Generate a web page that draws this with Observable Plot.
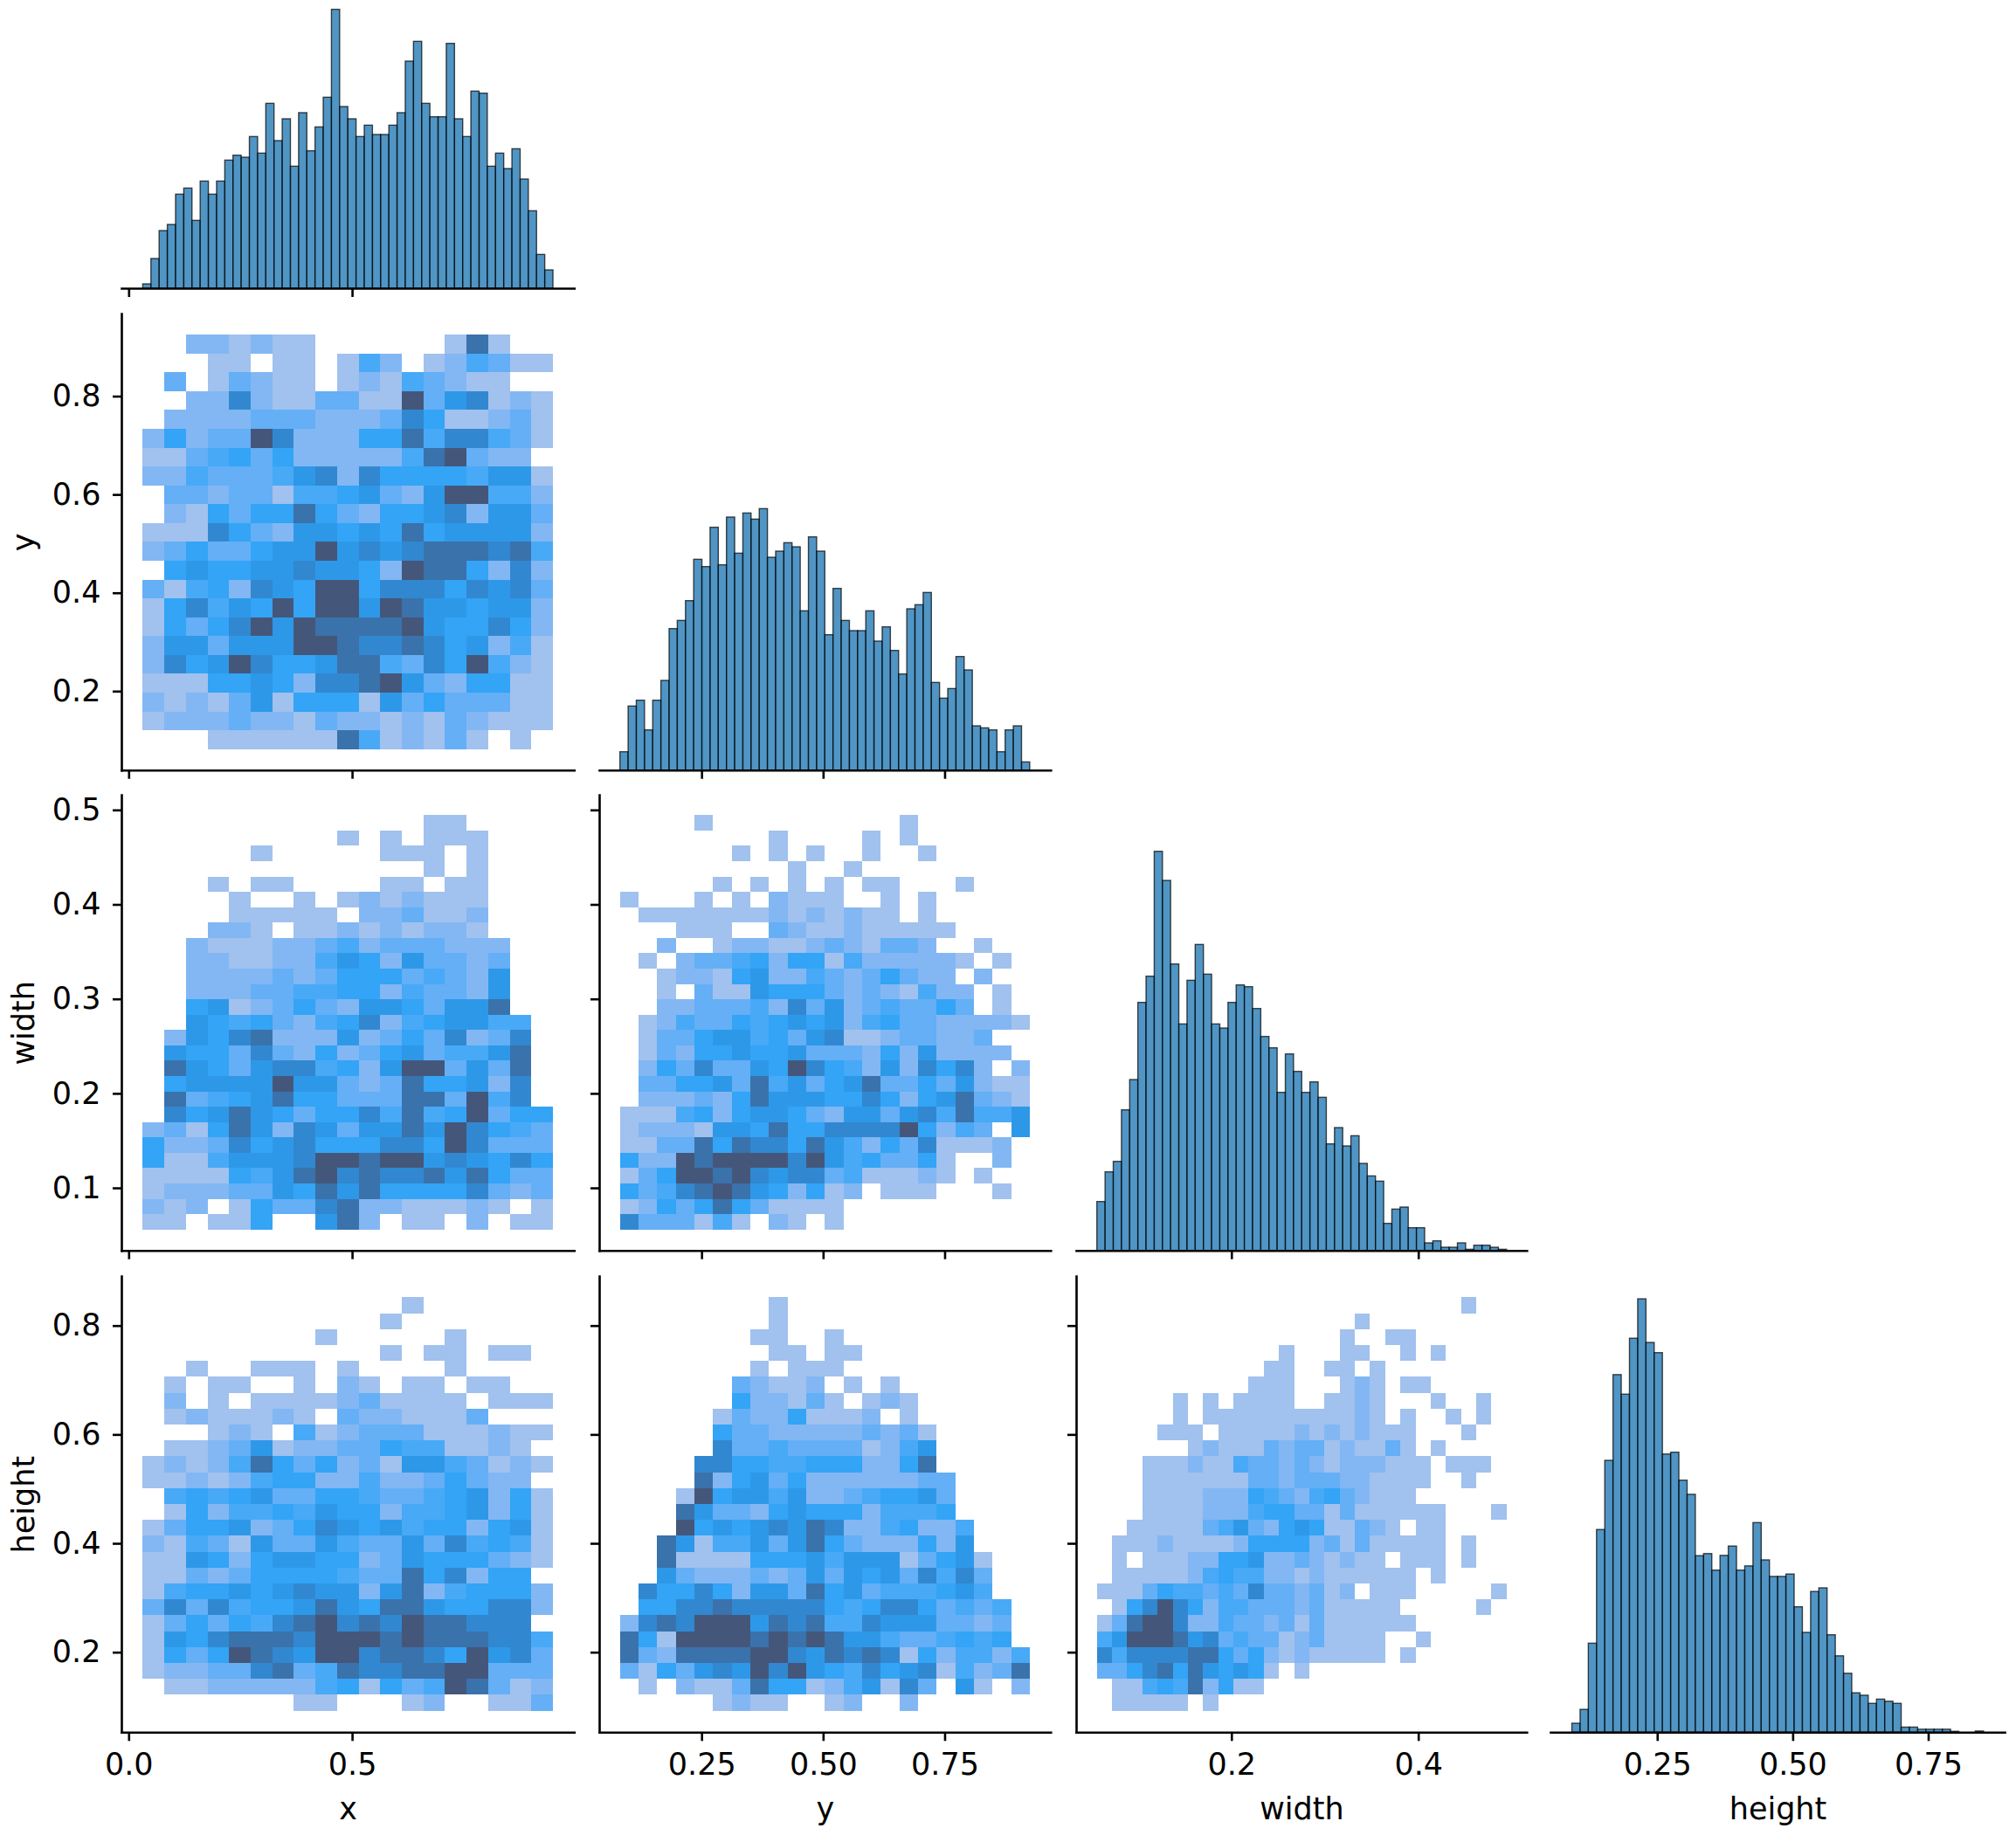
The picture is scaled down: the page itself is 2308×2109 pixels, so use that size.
<!DOCTYPE html>
<html>
<head>
<meta charset="utf-8">
<title>Pair plot of x, y, width, height</title>
<script src="https://cdn.jsdelivr.net/npm/d3@7"></script>
<script src="https://cdn.jsdelivr.net/npm/@observablehq/plot@0.6"></script>
<style>
  html, body { margin: 0; background: #fff; }
  #figure { position: relative; width: 2308px; height: 2109px; overflow: hidden; background: #fff; }
  #figure svg { position: absolute; overflow: visible; max-width: none; background: transparent; }
</style>
</head>
<body>
<div id="figure"></div>
<script>
// Corner pair plot: histograms on the diagonal, binned 2D histograms below it.
// Histogram values are bar heights (arbitrary count units).
const xCounts = [15,102,198,219,323,344,233,368,323,368,440,457,450,521,464,635,507,582,419,603,472,554,656,958,624,582,521,560,528,528,560,603,780,848,635,589,589,841,582,521,677,670,419,464,411,479,375,266,116,63];
const yCounts = [63,220,240,138,240,308,486,514,582,724,699,834,705,869,745,883,862,898,731,752,781,767,547,801,752,465,624,514,479,479,547,443,492,411,330,554,568,610,301,247,280,390,344,152,145,138,63,138,152,28];
const widthCounts = [168,270,306,483,587,852,942,1371,1271,984,778,928,1051,949,778,764,852,912,906,831,735,696,543,675,615,543,579,526,366,422,359,394,299,256,238,93,142,149,78,78,26,33,11,11,26,4,18,18,11,4];
const heightCounts = [30,76,296,674,904,1189,1124,1310,1441,1296,1262,925,931,838,791,587,594,539,588,619,539,553,697,573,518,518,526,417,332,468,480,324,254,196,131,123,96,110,103,96,17,17,10,10,10,10,3,0,0,4];

// 2D histograms: one string per row, top row first; each digit is a shade level, 0 = empty.
const xyLevels = [
  "0022121100000018100","0001101101420124311","0301321101214321100","0022721133119367121",
  "0222233322237511231","2523397222558477431","1134535222224893220","2243334672755554661",
  "0332331445632699442","0215355853255672663","1117532665658566662","2353356696767888784",
  "0565566766529885272","3145276599577757673","1574659599698665662","1535796988889655752",
  "2663666998778756241","2756975568843759421","1115565277896325511","2121361555163533311",
  "1222322132212132111","0001111118412131010"
];
const xWidthLevels = [
  "0000000000000110000","0000000001010111000","0000010000011101000","0000000000000101000",
  "0001011000011011000","0000100101212111000","0000111110223112000","0002210112121221000",
  "0021112234233322200","0022112246526332300","0022223235553432600","0022233445524332600",
  "0056123532665366800","0065453245724566440","0265782226235372370","0655373252356344680",
  "0865367745269936380","0566669663238556270","0834568553338839470","0756865355748459355",
  "2315862763668697543","5223756755577597333","5114666799899676575","1111546897877868533",
  "1222336586855557323","2120153378221112101","1101150068201102011"
];
const xHeightLevels = [
  "0000000000001000000","0000000000010000000","0000000010000010000","0000000000010110110",
  "0010011101000010000","0101100102101101100","0201011112311110111","0121112103221113000",
  "0001210412333111211","0112361223354411210","1212485352316643121","1121245522422353220",
  "0454563355433456251","0152445465524456251","1355623576564552561","2143163364336374541",
  "1165256655236555321","1132355554338572550","1455656766268245552","3737455686588655772",
  "1353547897879887770","1657888799989888774","1535987699788759673","1223378348778899333",
  "0112222245153498312","0000000110001200113"
];
const yWidthLevels = [
  "0000100000000001000000","0000000010000101000000","0000001010100100100000","0000000001001000000000",
  "0000010101010110001000","1000101021110010100000","0111111121212110100000","0001110032112111110000",
  "0020012211232133200100","0102334525514222221010","0012215622432353220200","0010311655532321422010",
  "0022333427362343353010","0124335456562453322221","0133566453671123322300","0132556556333252622220",
  "0253733659754262757202","0335563846356833536211","0222325866655752568321","1114525665326636748446",
  "1222166585577779524306","1133858775864253711120","5229899997964533510020","1359989767734111210100",
  "5347898652512011100010","1253585311110000000000","7333141021010000000000"
];
const yHeightLevels = [
  "0000000010000000000000","0000000010000000000000","0000000110010000000000","0000000011011000000000",
  "0000000101110000000000","0000003211201010000000","0000005221310121000000","0000013225111201000000",
  "0000053322222323100000","0000073343333124600000","0000775544555225800000","0000825635222222330000",
  "0001956646223455630000","0008633256555244450000","0009565676872245224000","0086144636853222526000",
  "0081111555646661356100","0063222323636563747300","0755752663856344456400","0557787777754577534340",
  "2787999687844766633230","8519999898986643345450","8328888997687871524424","3153676979654756714238",
  "0102113855124617306102","0000012110012002000000"
];
const widthHeightLevels = [
  "000000000000000000000000100","000000000000000001000000000","000000000000000010011000000","000000000000100011001010000",
  "000000000001100110100000000","000000000011100012101100000","000001010111100112100010010","000001011111111112101001010",
  "000011101111121212111000100","000000121113233121131010000","000111211433232122211101110","000111111133233322111100100",
  "000111122254324532111000000","000111122245533131111110001","001111134632565113210110000","011121111255552313111110100",
  "010111225562232121101110100","011111245442212111111010000","111354434373323120111000001","015797524433323111110000010",
  "138997224332313111111000000","469998673433123111100100000","747777885352121111101000000","335785865651010000000000000",
  "011454825110000000000000000","011111010000000000000000000"
];

const shadeLevels = [1, 2, 3, 4, 5, 6, 7, 8, 9];
const shadeColors = ["#a1c1ee", "#82b7f3", "#64aff6", "#48a9f7", "#33a4f6", "#2e98e8", "#3188d0", "#3a72ab", "#44577b"];

// Data range covered by bins, and axis limits, per variable
const xBins = [0.0315, 0.9495], yBins = [0.082, 0.925], widthBins = [0.056, 0.4945], heightBins = [0.0925, 0.852];
const xLimits = [-0.0162, 0.9969], yLimits = [0.0394, 0.968], widthLimits = [0.0338, 0.516], heightLimits = [0.053, 0.891];
const xTicks = [0, 0.5], yTicks = [0.25, 0.5, 0.75], yRowTicks = [0.2, 0.4, 0.6, 0.8];
const widthTicks = [0.2, 0.4], widthRowTicks = [0.1, 0.2, 0.3, 0.4, 0.5];
const heightTicks = [0.25, 0.5, 0.75], heightRowTicks = [0.2, 0.4, 0.6, 0.8];

// Frame positions on the page
const colLeft = [138.6, 685.9, 1231.7, 1775], colRight = [656.9, 1202.7, 1747.5, 2295];
const rowTop = [0, 358.6, 910.3, 1461.4], rowBottom = [330, 881.3, 1432, 1983.7];

const columns = [
  {name: "x", limits: xLimits, ticks: xTicks, format: ".1f"},
  {name: "y", limits: yLimits, ticks: yTicks, format: ".2f"},
  {name: "width", limits: widthLimits, ticks: widthTicks, format: ".1f"},
  {name: "height", limits: heightLimits, ticks: heightTicks, format: ".2f"}
];
const rows = [
  null,
  {name: "y", limits: yLimits, ticks: yRowTicks},
  {name: "width", limits: widthLimits, ticks: widthRowTicks},
  {name: "height", limits: heightLimits, ticks: heightRowTicks}
];

const FONT_SIZE = 35;
const SPINE = 2.6;
const HIST_FILL = "#1f77b4";

function cellsOf(levels, xRange, yRange) {
  const nx = levels[0].length, ny = levels.length;
  const dx = (xRange[1] - xRange[0]) / nx, dy = (yRange[1] - yRange[0]) / ny;
  const cells = [];
  levels.forEach((line, r) => {
    for (let c = 0; c < nx; c++) {
      const level = +line[c];
      if (!level) continue;
      cells.push({
        x1: xRange[0] + c * dx, x2: xRange[0] + (c + 1) * dx,
        y1: yRange[1] - (r + 1) * dy, y2: yRange[1] - r * dy,
        level
      });
    }
  });
  return cells;
}

function barsOf(counts, range) {
  const w = (range[1] - range[0]) / counts.length;
  return counts.map((count, i) => ({x1: range[0] + i * w, x2: range[0] + (i + 1) * w, count}));
}

function place(col, row, yOptions, marks) {
  const left = col === 0 && row > 0 ? 139 : 14;
  const bottom = row === 3 ? 125 : 14;
  const top = 4, right = 4;
  const w = colRight[col] - colLeft[col], h = rowBottom[row] - rowTop[row];
  const column = columns[col];
  const chart = Plot.plot({
    width: w + left + right,
    height: h + top + bottom,
    marginLeft: left, marginRight: right, marginTop: top, marginBottom: bottom,
    style: {fontFamily: "'DejaVu Sans', sans-serif", background: "transparent", color: "#000"},
    x: {domain: column.limits},
    y: yOptions,
    color: {type: "ordinal", domain: shadeLevels, range: shadeColors},
    marks: [
      ...marks,
      Plot.axisX({
        ticks: column.ticks,
        tickSize: 10, tickPadding: 13, strokeWidth: SPINE, fontSize: FONT_SIZE,
        tickFormat: row === 3 ? d3.format(column.format) : () => "",
        label: row === 3 ? column.name : null,
        labelAnchor: "center", labelArrow: "none", labelOffset: 99
      }),
      Plot.frame({anchor: "bottom", strokeWidth: SPINE})
    ]
  });
  chart.style.left = (colLeft[col] - left) + "px";
  chart.style.top = (rowTop[row] - top) + "px";
  document.getElementById("figure").appendChild(chart);
}

function histogram(col, row, counts, range, unitsPerPixel) {
  const h = rowBottom[row] - rowTop[row];
  place(col, row, {domain: [0, h * unitsPerPixel], axis: null}, [
    Plot.rect(barsOf(counts, range), {
      x1: "x1", x2: "x2", y1: 0, y2: "count",
      fill: HIST_FILL, fillOpacity: 0.78,
      stroke: "#000", strokeOpacity: 0.7, strokeWidth: 1.4
    })
  ]);
}

function heatmap(col, row, levels, xRange, yRange) {
  const r = rows[row];
  place(col, row, {domain: r.limits}, [
    Plot.rect(cellsOf(levels, xRange, yRange), {
      x1: "x1", x2: "x2", y1: "y1", y2: "y2",
      fill: "level", shapeRendering: "crispEdges"
    }),
    Plot.axisY({
      ticks: r.ticks,
      tickSize: 10, tickPadding: 14, strokeWidth: SPINE, fontSize: FONT_SIZE,
      tickFormat: col === 0 ? d3.format(".1f") : () => "",
      label: col === 0 ? r.name : null,
      labelAnchor: "center", labelArrow: "none", labelOffset: 125
    }),
    Plot.frame({anchor: "left", strokeWidth: SPINE})
  ]);
}

histogram(0, 0, xCounts, xBins, 3);
heatmap(0, 1, xyLevels, xBins, yBins);
histogram(1, 1, yCounts, yBins, 3);
heatmap(0, 2, xWidthLevels, xBins, widthBins);
heatmap(1, 2, yWidthLevels, yBins, widthBins);
histogram(2, 2, widthCounts, widthBins, 3);
heatmap(0, 3, xHeightLevels, xBins, heightBins);
heatmap(1, 3, yHeightLevels, yBins, heightBins);
heatmap(2, 3, widthHeightLevels, widthBins, heightBins);
histogram(3, 3, heightCounts, heightBins, 2.904);
</script>
</body>
</html>
